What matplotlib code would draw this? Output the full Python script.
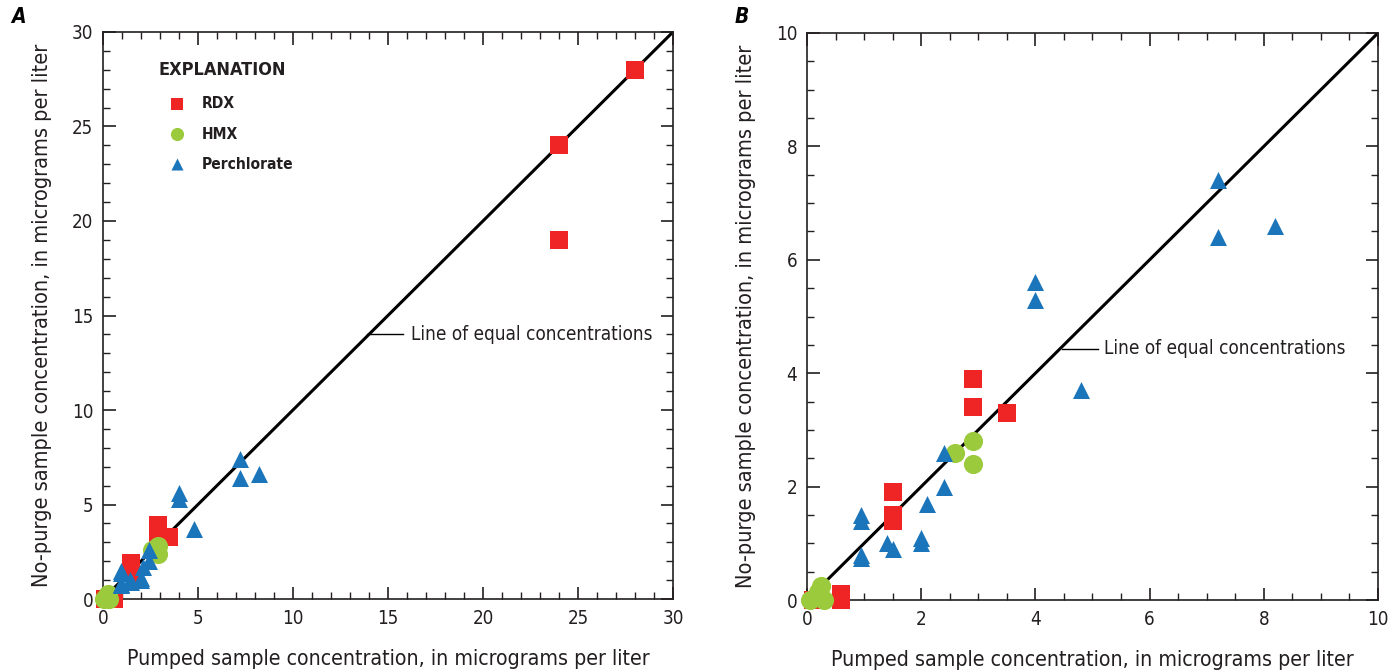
import matplotlib
matplotlib.use("Agg")
import matplotlib.pyplot as plt
from matplotlib.ticker import MultipleLocator

plt.rcParams['font.family'] = ['DejaVu Sans']
plt.rcParams['font.stretch'] = 'condensed'

# RDX (pumped, no-purge)
rdx_x = [28, 24, 24, 3.5, 2.9, 2.9, 1.5, 1.5, 1.5, 0.6, 0.6, 0.1]
rdx_y = [28, 24, 19, 3.3, 3.9, 3.4, 1.9, 1.5, 1.4, 0.1, 0.0, 0.0]
# HMX
hmx_x = [2.9, 2.9, 2.6, 0.25, 0.2, 0.05, 0.3]
hmx_y = [2.8, 2.4, 2.6, 0.25, 0.15, 0.0, 0.0]
# Perchlorate
per_x = [7.2, 7.2, 8.2, 4.0, 4.0, 4.8, 2.4, 2.4, 2.1, 0.95, 0.95, 0.95, 0.95, 1.4, 1.5, 2.0, 2.0]
per_y = [7.4, 6.4, 6.6, 5.6, 5.3, 3.7, 2.6, 2.0, 1.7, 1.5, 1.4, 0.8, 0.75, 1.0, 0.9, 1.1, 1.0]

RED = '#EE2524'
GREEN = '#9BCA3C'
BLUE = '#1A75BB'
INK = '#231f20'

fig = plt.figure(figsize=(13.95, 6.72), dpi=100)
axA = fig.add_axes([0.0738, 0.1086, 0.4086, 0.8438])
axB = fig.add_axes([0.5785, 0.1071, 0.4093, 0.8438])

def setup(ax, lim, major, minor):
    ax.set_xlim(0, lim)
    ax.set_ylim(0, lim)
    ax.plot([0, lim], [0, lim], color='black', lw=2.2, zorder=2)
    ax.scatter(rdx_x, rdx_y, marker='s', s=150, color=RED, lw=0, zorder=3, clip_on=False, label='RDX')
    ax.scatter(hmx_x, hmx_y, marker='o', s=190, color=GREEN, lw=0, zorder=4, clip_on=False, label='HMX')
    ax.scatter(per_x, per_y, marker='^', s=150, color=BLUE, lw=0, zorder=5, clip_on=False, label='Perchlorate')
    ax.xaxis.set_major_locator(MultipleLocator(major))
    ax.yaxis.set_major_locator(MultipleLocator(major))
    ax.xaxis.set_minor_locator(MultipleLocator(minor))
    ax.yaxis.set_minor_locator(MultipleLocator(minor))
    ax.tick_params(which='both', direction='in', top=True, right=True, labelsize=13.5, colors=INK)
    ax.tick_params(which='major', length=9, width=1.2, pad=7)
    ax.tick_params(which='minor', length=5, width=1.0)
    for s in ax.spines.values():
        s.set_linewidth(1.2)
        s.set_color(INK)
    ax.set_xlabel('Pumped sample concentration, in micrograms per liter', fontsize=15.3, labelpad=15, color=INK)
    ax.set_ylabel('No-purge sample concentration, in micrograms per liter', fontsize=15.6, labelpad=14, color=INK)

setup(axA, 30, 5, 1)
setup(axB, 10, 2, 0.5)

# Line-of-equal label
axA.plot([13.9, 15.8], [14.0, 14.0], color='black', lw=1)
axA.text(16.2, 14.0, 'Line of equal concentrations', fontsize=13.6, va='center', ha='left', color=INK)
axB.plot([4.47, 5.1], [4.43, 4.43], color='black', lw=1)
axB.text(5.2, 4.43, 'Line of equal concentrations', fontsize=13.6, va='center', ha='left', color=INK)

# Explanation
axA.text(2.9, 28.0, 'EXPLANATION', fontsize=13, fontweight='bold', va='center', ha='left', color=INK)
leg_y = [26.2, 24.6, 23.0]
leg_markers = [('s', RED, 'RDX', 70), ('o', GREEN, 'HMX', 90), ('^', BLUE, 'Perchlorate', 75)]
for yy, (m, c, lab, sz) in zip(leg_y, leg_markers):
    axA.scatter([3.9], [yy], marker=m, s=sz, color=c, lw=0, zorder=5)
    axA.text(5.2, yy, lab, fontsize=11.2, fontweight='bold', va='center', ha='left', color=INK)

fig.text(18/1395, 1 - 17/672, 'A', fontsize=15, fontweight='bold', style='italic', va='center', ha='center')
fig.text(742/1395, 1 - 17/672, 'B', fontsize=15, fontweight='bold', style='italic', va='center', ha='center')

fig.savefig('out.png', dpi=100)
